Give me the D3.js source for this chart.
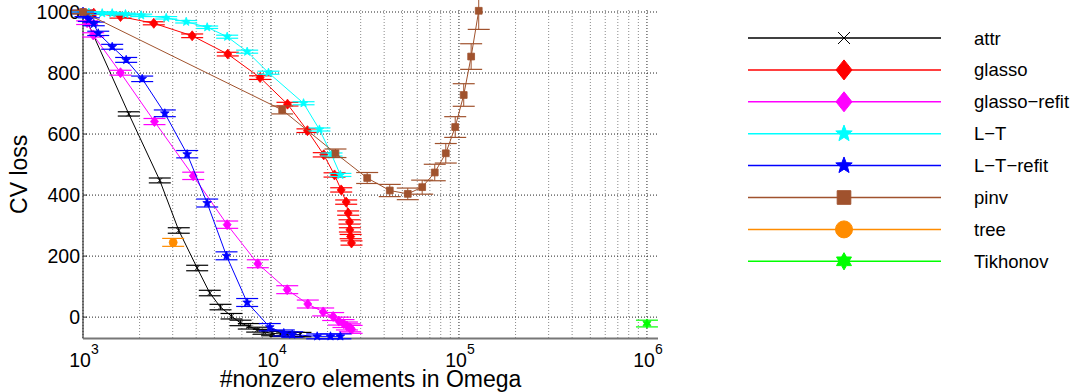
<!DOCTYPE html>
<html>
<head>
<meta charset="utf-8">
<script src="https://cdn.jsdelivr.net/npm/d3@7"></script>
<style>
  html, body { margin: 0; padding: 0; background: #fff; }
  svg { display: block; font-family: "Liberation Sans", Arial, Helvetica, sans-serif; }
</style>
</head>
<body>
<svg id="chart" width="1073" height="392"></svg>
<script>
// ---- data ----
const seriesNames = ["attr", "glasso", "glasso\u2212refit", "L\u2212T", "L\u2212T\u2212refit", "pinv", "tree", "Tikhonov"];
const seriesColors = ["#000000", "#ff0000", "#ff00ff", "#00ffff", "#0000ff", "#a0522d", "#ff8c00", "#00ff00"];
const seriesMarkers = ["x", "diamond", "diamond", "star", "star", "square", "circle", "hexagram"];

const attrX = [1000, 1752, 2562, 3232, 4049, 4726, 5388, 6166, 6884, 7621, 8446, 9156, 10140, 11230, 12200, 13220, 14350];
const attrY = [1000, 666, 448, 284, 161, 79, 33, 3, -19, -30, -41, -48, -53, -55, -56, -57, -57];
const attrErr = [6, 7, 8, 9, 9, 9, 9, 9, 9, 9, 8, 8, 8, 8, 7, 7, 7];

const glassoX = [1000, 1141, 1583, 2380, 3809, 5891, 8750, 12240, 15630, 19090, 21780, 23630, 25120, 25740, 26170, 26290, 26530, 26810];
const glassoY = [1000, 996, 985, 963, 922, 862, 785, 698, 611, 532, 466, 417, 377, 341, 312, 286, 264, 243];
const glassoErr = [4, 4, 5, 5, 6, 6, 6, 6, 6, 7, 7, 7, 7, 7, 7, 7, 7, 7];

const refitX = [1000, 1052, 1133, 1583, 2400, 3857, 5848, 8511, 12200, 15700, 18950, 21420, 22950, 24300, 25350, 26290, 26850];
const refitY = [1000, 965, 925, 801, 641, 463, 303, 175, 90, 43, 17, 2, -13, -21, -29, -35, -40];
const refitErr = [5, 6, 7, 8, 10, 12, 12, 13, 13, 13, 13, 13, 13, 13, 13, 13, 13];

const ltX = [1000, 1074, 1265, 1430, 1683, 2040, 2771, 3540, 4577, 5848, 7470, 9700, 14900, 18100, 20990, 23400];
const ltY = [1000, 998, 996, 996, 993, 989, 981, 968, 950, 919, 870, 801, 701, 615, 533, 466];
const ltErr = [3, 3, 3, 3, 3, 4, 4, 4, 4, 5, 5, 5, 5, 5, 5, 5];

const ltRefitX = [1000, 1031, 1074, 1141, 1205, 1430, 1697, 2065, 2724, 3584, 4577, 5799, 7470, 9854, 11700, 12970, 17610, 20730, 23400];
const ltRefitY = [1000, 990, 975, 961, 930, 886, 843, 781, 668, 534, 374, 201, 48, -33, -52, -57, -63, -63, -63];
const ltRefitErr = [4, 5, 6, 6, 7, 8, 8, 9, 11, 12, 13, 13, 13, 12, 10, 9, 8, 8, 8];

const pinvX = [1000, 11470, 22030, 32490, 42850, 53420, 63730, 74340, 85100, 95500, 106000, 116100, 127400];
const pinvY = [1000, 679, 537, 456, 415, 404, 426, 474, 537, 623, 728, 854, 1004];
const pinvErr = [5, 13, 14, 18, 20, 19, 23, 27, 32, 34, 37, 42, 61];

const treeX = [3018];
const treeY = [245];
const treeErr = [13];

const tikhonovX = [1000000];
const tikhonovY = [-21];
const tikhonovErr = [11];

const yTicks = [0, 200, 400, 600, 800, 1000];
const xTickExps = [3, 4, 5, 6];
const xLabel = "#nonzero elements in Omega";
const yLabel = "CV loss";

// ---- build series table ----
const allX = [attrX, glassoX, refitX, ltX, ltRefitX, pinvX, treeX, tikhonovX];
const allY = [attrY, glassoY, refitY, ltY, ltRefitY, pinvY, treeY, tikhonovY];
const allErr = [attrErr, glassoErr, refitErr, ltErr, ltRefitErr, pinvErr, treeErr, tikhonovErr];
const series = seriesNames.map((name, i) => ({
  name, color: seriesColors[i], marker: seriesMarkers[i],
  points: allX[i].map((xv, j) => ({ x: xv, y: allY[i][j], e: allErr[i][j] }))
}));

// ---- scales ----
const svg = d3.select("#chart");
const x = d3.scaleLog().domain([1000, 1.145e6]).range([83, 658]);
const y = d3.scaleLinear().domain([-70, 1000]).range([338.5, 12]);
const plotTop = 10, plotBottom = 338.5, plotLeft = 83, plotRight = 658;

// ---- marker paths ----
function starPath(R, r, n, rot) {
  const pts = [];
  for (let k = 0; k < 2 * n; k++) {
    const rad = k % 2 === 0 ? R : r;
    const a = rot + k * Math.PI / n;
    pts.push([rad * Math.sin(a), -rad * Math.cos(a)]);
  }
  return "M" + pts.map(p => p[0].toFixed(2) + "," + p[1].toFixed(2)).join("L") + "Z";
}
function markerPath(type, s) {
  switch (type) {
    case "x": return `M${-s},${-s}L${s},${s}M${-s},${s}L${s},${-s}`;
    case "diamond": return `M0,${-s * 1.25}L${s},0L0,${s * 1.25}L${-s},0Z`;
    case "star": return starPath(s * 1.15, s * 1.15 * 0.42, 5, 0);
    case "hexagram": return starPath(s * 1.15, s * 1.15 * 0.577, 6, 0);
    case "square": return `M${-s * 0.85},${-s * 0.85}H${s * 0.85}V${s * 0.85}H${-s * 0.85}Z`;
    case "circle": return d3.symbol(d3.symbolCircle, Math.PI * s * s)();
  }
}

// ---- grid ----
const grid = svg.append("g");
const minorVals = [];
for (let d = 3; d <= 6; d++) for (let k = 1; k <= 9; k++) {
  const v = k * Math.pow(10, d);
  if (v <= x.domain()[1]) minorVals.push({ v, major: k === 1 });
}
grid.selectAll("line.v").data(minorVals).join("line")
  .attr("x1", d => x(d.v)).attr("x2", d => x(d.v))
  .attr("y1", plotTop).attr("y2", plotBottom)
  .attr("stroke", d => d.major ? "#222" : "#8a8a8a")
  .attr("stroke-width", 1)
  .attr("stroke-dasharray", "1,2");
grid.selectAll("line.h").data(yTicks).join("line")
  .attr("x1", plotLeft).attr("x2", plotRight)
  .attr("y1", d => y(d)).attr("y2", d => y(d))
  .attr("stroke", "#222").attr("stroke-width", 1).attr("stroke-dasharray", "1,2");

// ---- axes ----
const axes = svg.append("g");
axes.append("line").attr("x1", plotLeft).attr("x2", plotLeft).attr("y1", plotTop).attr("y2", plotBottom)
  .attr("stroke", "#444").attr("stroke-width", 1.3);
axes.append("line").attr("x1", plotLeft).attr("x2", plotRight).attr("y1", plotBottom).attr("y2", plotBottom)
  .attr("stroke", "#777").attr("stroke-width", 2);
axes.selectAll("line.yt").data(yTicks).join("line")
  .attr("x1", plotLeft).attr("x2", plotLeft + 4).attr("y1", d => y(d)).attr("y2", d => y(d))
  .attr("stroke", "#333").attr("stroke-width", 1);
axes.selectAll("text.yl").data(yTicks).join("text")
  .attr("x", 80).attr("y", d => y(d) + 7)
  .attr("text-anchor", "end").attr("font-size", 19.5).attr("fill", "#000")
  .text(d => d);
const xl = axes.selectAll("text.xl").data(xTickExps).join("text")
  .attr("x", d => x(Math.pow(10, d)) + 1).attr("y", 366.7)
  .attr("text-anchor", "middle").attr("font-size", 19.5).attr("fill", "#000");
xl.append("tspan").text("10");
xl.append("tspan").attr("dy", -12.4).attr("font-size", 14).text(d => d);

svg.append("text").attr("x", (plotLeft + plotRight) / 2).attr("y", 386.5)
  .attr("text-anchor", "middle").attr("font-size", 23).text(xLabel);
svg.append("text").attr("transform", `translate(27,${(plotTop + plotBottom) / 2}) rotate(-90)`)
  .attr("text-anchor", "middle").attr("font-size", 23).text(yLabel);

// ---- series ----
const line = d3.line().x(d => x(d.x)).y(d => y(d.y));
const capW = 11;
series.forEach(s => {
  const g = svg.append("g");
  if (s.points.length > 1) {
    g.append("path").attr("d", line(s.points)).attr("fill", "none")
      .attr("stroke", s.color).attr("stroke-width", 1);
  }
  const eb = g.selectAll("g.eb").data(s.points).join("g");
  eb.append("line").attr("x1", d => x(d.x)).attr("x2", d => x(d.x))
    .attr("y1", d => y(d.y - d.e)).attr("y2", d => y(d.y + d.e))
    .attr("stroke", s.color).attr("stroke-width", 1);
  eb.append("line").attr("x1", d => x(d.x) - capW).attr("x2", d => x(d.x) + capW)
    .attr("y1", d => y(d.y - d.e)).attr("y2", d => y(d.y - d.e))
    .attr("stroke", s.color).attr("stroke-width", 1.2);
  eb.append("line").attr("x1", d => x(d.x) - capW).attr("x2", d => x(d.x) + capW)
    .attr("y1", d => y(d.y + d.e)).attr("y2", d => y(d.y + d.e))
    .attr("stroke", s.color).attr("stroke-width", 1.2);
  const sz = s.marker === "x" ? 2.5 : s.marker === "square" ? 4 : 4;
  g.selectAll("path.m").data(s.points).join("path")
    .attr("transform", d => `translate(${x(d.x)},${y(d.y)})`)
    .attr("d", markerPath(s.marker, sz))
    .attr("fill", s.marker === "x" ? "none" : s.color)
    .attr("stroke", s.color).attr("stroke-width", 0.8);
});

// ---- legend ----
const legY0 = 38, legDy = 31.9;
const leg = svg.append("g");
series.forEach((s, i) => {
  const ly = legY0 + i * legDy;
  leg.append("line").attr("x1", 748).attr("x2", 941).attr("y1", ly).attr("y2", ly)
    .attr("stroke", s.color).attr("stroke-width", 1.5);
  const ms = s.marker === "x" ? 6 : s.marker === "diamond" ? 8 : s.marker === "circle" ? 8.5 : s.marker === "square" ? 8 : 7.5;
  leg.append("path").attr("transform", `translate(844,${ly})`)
    .attr("d", markerPath(s.marker, ms))
    .attr("fill", s.marker === "x" ? "none" : s.color)
    .attr("stroke", s.color).attr("stroke-width", 1);
  leg.append("text").attr("x", 974).attr("y", ly + 6.5).attr("font-size", 18.5).text(s.name);
});
</script>
</body>
</html>
